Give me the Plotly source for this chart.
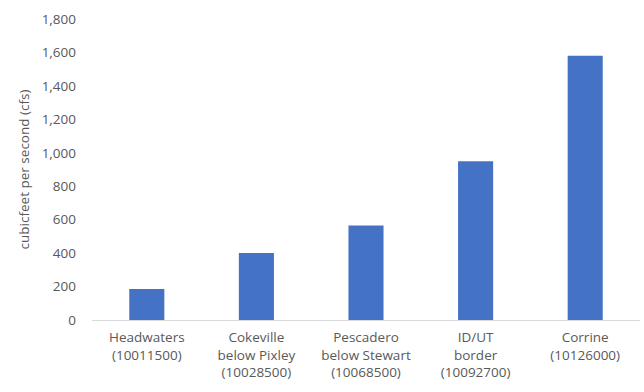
import plotly.graph_objects as go

categories = [
    "Headwaters<br>(10011500)",
    "Cokeville<br>below Pixley<br>(10028500)",
    "Pescadero<br>below Stewart<br>(10068500)",
    "ID/UT<br>border<br>(10092700)",
    "Corrine<br>(10126000)",
]
values = [185, 400, 565, 950, 1580]
y_ticks = [0, 200, 400, 600, 800, 1000, 1200, 1400, 1600, 1800]

font_family = "Open Sans, Liberation Sans, sans-serif"
gray = "#595959"

fig = go.Figure(go.Bar(x=categories, y=values, marker_color="#4472C4", marker_line_width=0))

fig.update_layout(
    width=644, height=392,
    margin=dict(l=92, r=4, t=19, b=72),
    paper_bgcolor="white", plot_bgcolor="white",
    bargap=0.68,
    showlegend=False,
    font=dict(family=font_family, size=13, color=gray),
)
fig.update_xaxes(
    showline=True, linecolor="#d9d9d9", linewidth=1,
    showgrid=False, ticks="", tickfont=dict(size=13.5, color=gray),
    ticklabelstandoff=5,
)
fig.update_yaxes(
    range=[0, 1800], tickvals=y_ticks,
    ticktext=[f"{v:,}" for v in y_ticks],
    showgrid=False, zeroline=False, showline=False,
    tickfont=dict(size=13.5, color=gray),
    ticklabelstandoff=15,
    title=dict(text="cubicfeet per second (cfs)", font=dict(size=13.5, color=gray), standoff=8),
)
fig.write_html("out.html")
